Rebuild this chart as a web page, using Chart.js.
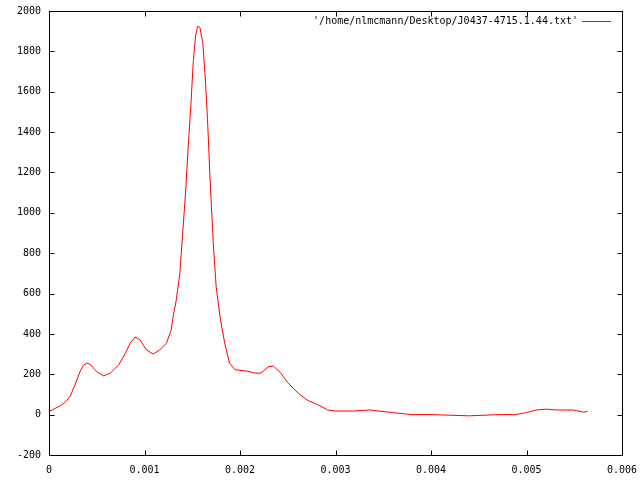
<!DOCTYPE html>
<html>
<head>
<meta charset="utf-8">
<script src="https://cdn.jsdelivr.net/npm/chart.js@4/dist/chart.umd.min.js"></script>
<style>
  html, body { margin: 0; padding: 0; background: #fff; }
  #wrap { width: 640px; height: 480px; }
</style>
</head>
<body>
<div id="wrap"><canvas id="chartCanvas" width="640" height="480"></canvas></div>
<script>
// values (x in units of 1e-3)
var xValues = [0.01, 0.06, 0.115, 0.17, 0.22, 0.27, 0.325, 0.36, 0.395, 0.43, 0.5, 0.57, 0.64, 0.73, 0.8,
    0.85, 0.9, 0.95, 1.02, 1.09, 1.16, 1.23, 1.28, 1.3, 1.33, 1.37, 1.4, 1.43, 1.46, 1.485, 1.51, 1.535,
    1.555, 1.58, 1.61, 1.635, 1.66, 1.685, 1.72, 1.75, 1.79, 1.84, 1.89, 1.95, 2.07, 2.16, 2.22, 2.3,
    2.35, 2.42, 2.5, 2.61, 2.71, 2.82, 2.92, 3.0, 3.19, 3.36, 3.6, 3.8, 4.02, 4.4, 4.7, 4.88, 5.0, 5.1,
    5.21, 5.32, 5.49, 5.6, 5.64];
var yValues = [18, 30, 43, 62, 90, 145, 213, 245, 255, 250, 213, 192, 205, 247, 305,
    354, 384, 372, 321, 300, 321, 354, 420, 487, 560, 700, 900, 1100, 1347, 1529, 1745, 1877,
    1924, 1919, 1844, 1678, 1463, 1182, 851, 636, 487, 354, 255, 222, 216, 205, 206, 238,
    240, 210, 158, 106, 70, 48, 23, 18, 18, 23, 10, 0, 0, -6, 0, 0, 10, 23,
    27, 23, 23, 12, 17];
var xTickLabels = ['0', '0.001', '0.002', '0.003', '0.004', '0.005', '0.006'];
var legendLabel = "'/home/nlmcmann/Desktop/J0437-4715.1.44.txt'";

var points = [];
for (var i = 0; i < xValues.length; i++) {
    points.push({ x: xValues[i] / 1000, y: yValues[i] });
}

var font = { family: 'DejaVu Sans Mono', size: 10 };

// gnuplot style frame, inward ticks and legend
var framePlugin = {
    id: 'frame',
    afterDraw: function (chart) {
        var c = chart.ctx;
        var a = chart.chartArea;
        var L = Math.round(a.left) + 0.5, R = Math.round(a.right) + 0.5;
        var T = Math.round(a.top) + 0.5, B = Math.round(a.bottom) + 0.5;
        c.save();
        c.strokeStyle = '#000';
        c.lineWidth = 1;
        c.beginPath();
        c.rect(L, T, R - L, B - T);
        chart.scales.y.ticks.forEach(function (t) {
            var y = Math.round(chart.scales.y.getPixelForValue(t.value)) + 0.5;
            c.moveTo(L, y); c.lineTo(L + 5, y);
            c.moveTo(R, y); c.lineTo(R - 5, y);
        });
        chart.scales.x.ticks.forEach(function (t) {
            var x = Math.round(chart.scales.x.getPixelForValue(t.value)) + 0.5;
            c.moveTo(x, B); c.lineTo(x, B - 5);
            c.moveTo(x, T); c.lineTo(x, T + 5);
        });
        c.stroke();

        c.font = '10px "DejaVu Sans Mono"';
        c.fillStyle = '#000';
        c.textAlign = 'right';
        c.textBaseline = 'middle';
        c.fillText(legendLabel, 578, 21);
        // legend sample line
        c.fillStyle = '#ff0000';
        c.fillRect(582, 21, 29, 1);
        c.restore();
    }
};

var ctx = document.getElementById('chartCanvas').getContext('2d');
var myChart = new Chart(ctx, {
    type: 'scatter',
    data: {
        datasets: [{
            label: legendLabel,
            data: points,
            showLine: true,
            borderColor: '#ff0000',
            borderWidth: 1,
            pointRadius: 0,
            tension: 0
        }]
    },
    options: {
        responsive: false,
        animation: false,
        layout: { padding: { left: 0, top: 11, right: 18, bottom: 0 } },
        plugins: { legend: { display: false }, tooltip: { enabled: false } },
        scales: {
            x: {
                type: 'linear',
                min: 0,
                max: 0.006,
                afterFit: function (s) {
                    s.height = 25;
                    s.paddingRight = 0;
                    s.paddingLeft = 0;
                },
                afterBuildTicks: function (s) {
                    s.ticks = xTickLabels.map(function (l, i) { return { value: i / 1000 }; });
                },
                ticks: {
                    font: font,
                    color: '#000',
                    padding: 9,
                    maxRotation: 0,
                    autoSkip: false,
                    callback: function (v, i) { return xTickLabels[i]; }
                },
                grid: { display: false, drawTicks: false },
                border: { display: false }
            },
            y: {
                min: -200,
                max: 2000,
                afterFit: function (s) {
                    s.width = 49;
                    s.paddingTop = 0;
                    s.paddingBottom = 0;
                },
                ticks: {
                    stepSize: 200,
                    font: font,
                    color: '#000',
                    padding: 8,
                    callback: function (v) { return String(v); }
                },
                grid: { display: false, drawTicks: false },
                border: { display: false }
            }
        }
    },
    plugins: [framePlugin]
});
</script>
</body>
</html>
